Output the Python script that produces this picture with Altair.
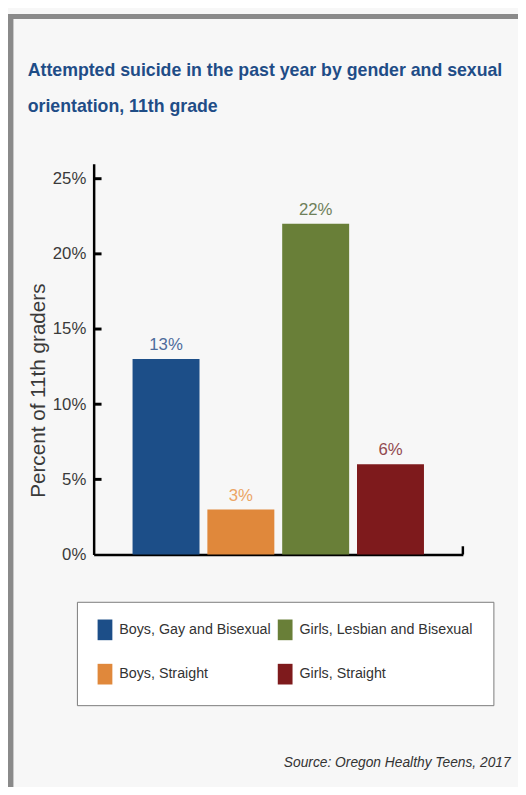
import altair as alt
import pandas as pd

# ---- data ----
groups = ["Boys, Gay and Bisexual", "Boys, Straight", "Girls, Lesbian and Bisexual", "Girls, Straight"]
values = [13, 3, 22, 6]
bar_colors = ["#1c4e88", "#e0883b", "#697f38", "#7e1a1c"]
label_colors = ["#4d6b9c", "#eba565", "#6f805a", "#924a4f"]
y_ticks = [0, 5, 10, 15, 20, 25]
inner_ticks = [5, 10, 15, 20, 25]
title_lines = ["Attempted suicide in the past year by gender and sexual", "orientation, 11th grade"]
y_title = "Percent of 11th graders"
source = "Source: Oregon Healthy Teens, 2017"

FONT = "Liberation Sans, Arial, sans-serif"
W, H = 375, 397

df = pd.DataFrame({"group": groups, "value": values})
df["label"] = [f"{v}%" for v in values]
ticks_df = pd.DataFrame({"t": inner_ticks})
one = pd.DataFrame({"k": [0]})

x = alt.X(
    "group:N", sort=groups,
    scale=alt.Scale(paddingInner=0.105, paddingOuter=0.52),
    axis=alt.Axis(
        labels=False, ticks=False, domainColor="black", domainWidth=2.5,
        title=source, titleFont=FONT, titleFontStyle="italic", titleFontWeight="normal",
        titleFontSize=14, titleColor="#333333", titleX=423, titleY=215,
        titleAlign="right", titleBaseline="alphabetic", titleAnchor="end",
    ),
)
y = alt.Y(
    "value:Q", scale=alt.Scale(domain=[0, 25]),
    axis=alt.Axis(
        values=y_ticks, labelExpr="datum.value + '%'", ticks=False, grid=False,
        domainColor="black", domainWidth=2.5, labelPadding=8, labelFont=FONT,
        labelFontSize=17, labelColor="#3a3a3a",
        title=y_title, titleX=-50, titleY=230, titleAngle=-90, titleAlign="center",
        titleBaseline="alphabetic", titleFont=FONT, titleFontSize=21,
        titleFontWeight="normal", titleColor="#3a3a3a",
    ),
)

bars = alt.Chart(df).mark_bar().encode(
    x=x, y=y,
    color=alt.Color(
        "group:N",
        scale=alt.Scale(domain=groups, range=bar_colors),
        legend=alt.Legend(
            orient="none", legendX=-17, legendY=445, columns=2, title=None,
            symbolType="M-1,-1.4h2v2.8h-2z", symbolSize=225, symbolStrokeWidth=0,
            symbolOpacity=1, labelFont=FONT, labelFontSize=14.5, labelColor="#333333",
            labelOffset=7, columnPadding=7, rowPadding=24, padding=21,
            fillColor="white", strokeColor="#7a7a7a", labelLimit=400,
        ),
    ),
)

labels = alt.Chart(df).mark_text(
    dy=-9, baseline="alphabetic", font=FONT, fontSize=17
).encode(
    x=alt.X("group:N", sort=groups),
    y=alt.Y("value:Q"),
    text="label:N",
    color=alt.Color("group:N", scale=alt.Scale(domain=groups, range=label_colors), legend=None),
)

ticks = alt.Chart(ticks_df).mark_rule(color="black", strokeWidth=3).encode(
    y=alt.Y("t:Q"), x=alt.value(0), x2=alt.value(8)
)

end_tick = alt.Chart(one).mark_rule(color="black", strokeWidth=2.5).encode(
    x=alt.value(W), y=alt.datum(0), y2=alt.datum(0.55)
)

frame_left = alt.Chart(one).mark_rule(color="#8a8a8a", strokeWidth=6).encode(
    x=alt.value(-84.5), y=alt.value(-152), y2=alt.value(640)
)
frame_top = alt.Chart(one).mark_rule(color="#8a8a8a", strokeWidth=5).encode(
    x=alt.value(-88), x2=alt.value(440), y=alt.value(-149.5)
)

chart = alt.layer(frame_left, frame_top, bars, labels, ticks, end_tick).resolve_scale(
    color="independent"
).properties(
    width=W, height=H,
    padding={"left": 87, "top": 152, "right": 56, "bottom": 230},
    autosize=alt.AutoSizeParams(type="none"),
    background="#f7f7f7",
    title=alt.Title(
        text=title_lines, anchor="start", frame="group", dx=-67,
        font=FONT, fontWeight="bold", fontSize=18, color="#1f4d87",
        lineHeight=37, offset=-121, baseline="alphabetic",
    ),
).configure_view(stroke=None)

chart.save("out.html", embed_options={"renderer": "svg", "actions": False})
